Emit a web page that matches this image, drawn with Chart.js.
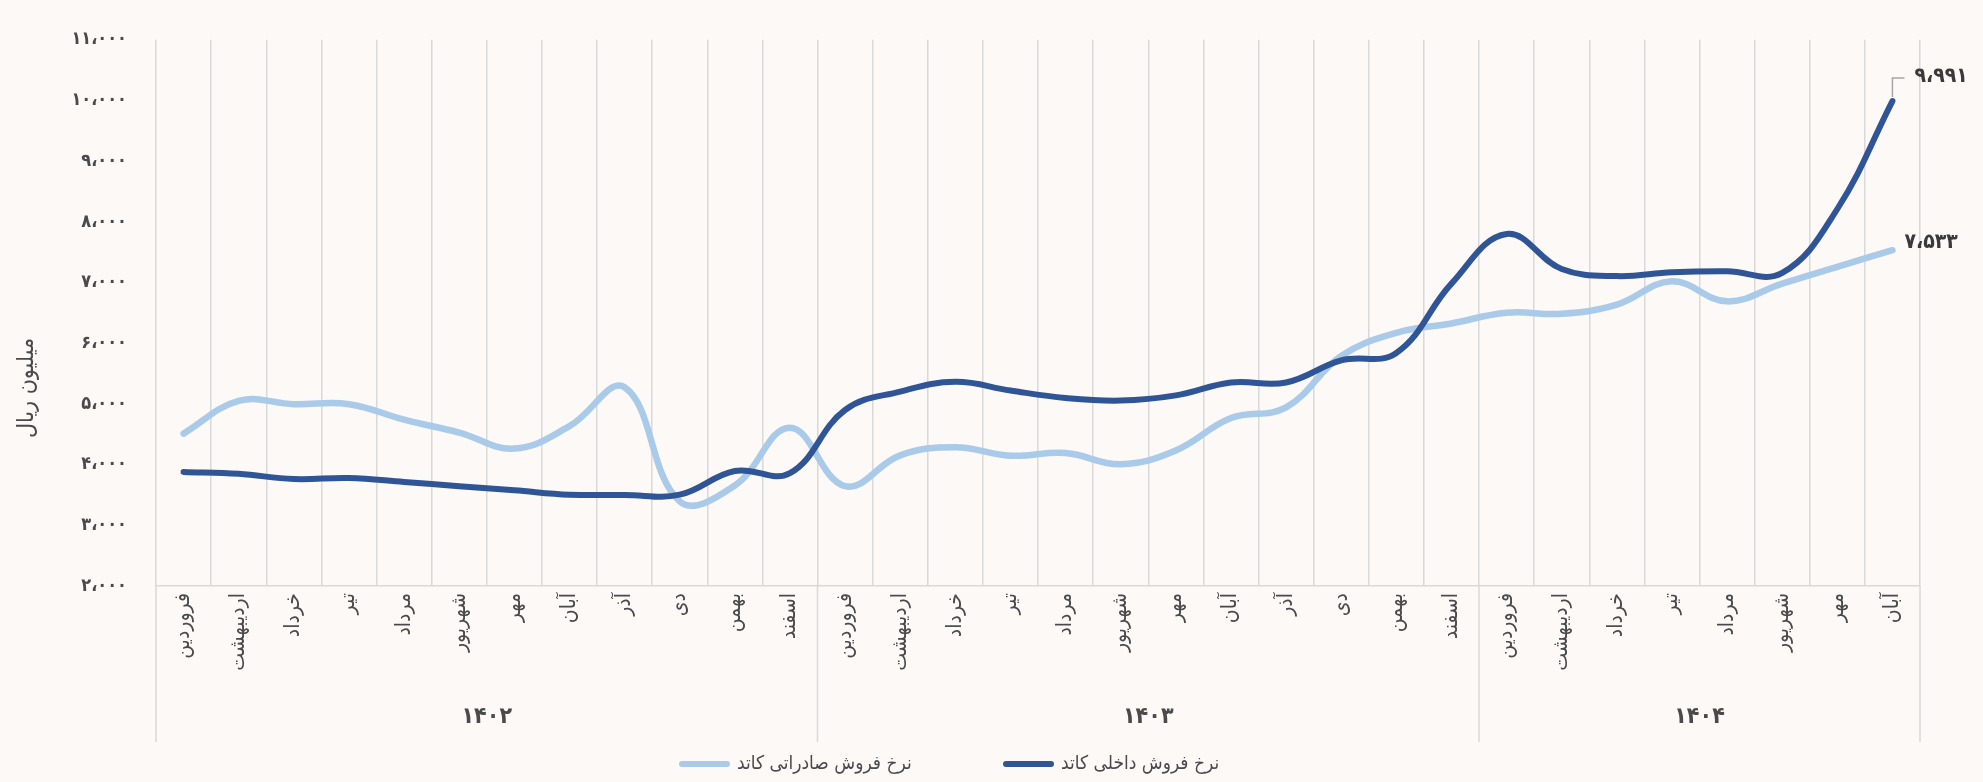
<!DOCTYPE html>
<html><head><meta charset="utf-8">
<script src="https://cdn.jsdelivr.net/npm/chart.js@4.4.1/dist/chart.umd.min.js"></script>
<style>
html,body{margin:0;padding:0;background:#FDF9F7;}
#wrap{width:1983px;height:782px;position:relative;overflow:hidden;}
</style></head><body>
<div id="wrap"><canvas id="c" width="1983" height="782"></canvas></div>
<script>
const monthNames = ['فروردین','اردیبهشت','خرداد','تیر','مرداد','شهریور','مهر','آبان','آذر','دی','بهمن','اسفند'];
const categories = [].concat(monthNames, monthNames, monthNames.slice(0, 8));
const years = ['۱۴۰۲','۱۴۰۳','۱۴۰۴'];
const yearSpans = [12, 12, 8];
const seriesNames = ['نرخ فروش داخلی کاتد', 'نرخ فروش صادراتی کاتد'];
const domestic = [3880, 3848, 3763, 3779, 3714, 3645, 3578, 3505, 3501, 3505, 3896, 3859,
                  4900, 5204, 5365, 5221, 5098, 5055, 5141, 5354, 5354, 5717, 5840, 6983,
                  7800, 7224, 7106, 7170, 7187, 7159, 8212, 9991];
const exportRate = [4511, 5049, 4996, 4996, 4740, 4527, 4265, 4633, 5274, 3394, 3655, 4607,
                    3645, 4152, 4286, 4147, 4190, 4008, 4232, 4767, 4943, 5790, 6171, 6326,
                    6502, 6486, 6636, 7021, 6690, 6983, 7260, 7533];
const yTickValues = [2000, 3000, 4000, 5000, 6000, 7000, 8000, 9000, 10000, 11000];
const yTitle = 'میلیون ریال';

const FONT = "'DejaVu Sans Condensed', 'DejaVu Sans', sans-serif";
const TXT = '#4A4A4A';
const GRID = '#D9D9D9';
const DARK = '#2F5597';
const LIGHT = '#A9CAE8';
const BG = '#FDF9F7';

function toFa(n) {
  return String(n).replace(/\B(?=(\d{3})+(?!\d))/g, '،').replace(/\d/g, d => '۰۱۲۳۴۵۶۷۸۹'[d]);
}

const extras = {
  id: 'extras',
  beforeDraw(chart) {
    const ctx = chart.ctx;
    ctx.save();
    ctx.fillStyle = BG;
    ctx.fillRect(0, 0, chart.width, chart.height);
    ctx.restore();
  },
  afterDraw(chart) {
    const ctx = chart.ctx;
    const xs = chart.scales.x;
    const area = chart.chartArea;
    const half = (xs.getPixelForValue(1) - xs.getPixelForValue(0)) / 2;
    ctx.save();
    ctx.strokeStyle = GRID;
    ctx.lineWidth = 1.5;
    let start = 0;
    const bounds = [0];
    yearSpans.forEach(s => { start += s; bounds.push(start); });
    bounds.forEach(b => {
      const px = b < categories.length ? xs.getPixelForValue(b) - half : xs.getPixelForValue(b - 1) + half;
      ctx.beginPath();
      ctx.moveTo(px, area.bottom);
      ctx.lineTo(px, 742);
      ctx.stroke();
    });
    ctx.fillStyle = TXT;
    ctx.font = 'bold 23px ' + FONT;
    ctx.textAlign = 'center';
    ctx.textBaseline = 'middle';
    years.forEach((y, i) => {
      const l = xs.getPixelForValue(bounds[i]) - half;
      const r = xs.getPixelForValue(bounds[i + 1] - 1) + half;
      ctx.fillText(y, (l + r) / 2, 717);
    });
    ctx.save();
    ctx.translate(27, 388);
    ctx.rotate(-Math.PI / 2);
    ctx.font = '23px ' + FONT;
    ctx.fillText(yTitle, 0, 0);
    ctx.restore();
    const mD = chart.getDatasetMeta(0).data;
    const mE = chart.getDatasetMeta(1).data;
    const pD = mD[mD.length - 1], pE = mE[mE.length - 1];
    ctx.strokeStyle = '#A6A6A6';
    ctx.lineWidth = 1.5;
    ctx.beginPath();
    ctx.moveTo(pD.x, pD.y - 4);
    ctx.lineTo(pD.x, pD.y - 23);
    ctx.lineTo(pD.x + 12, pD.y - 23);
    ctx.stroke();
    ctx.fillStyle = '#3A3A3A';
    ctx.font = 'bold 21px ' + FONT;
    ctx.textAlign = 'left';
    ctx.fillText(toFa(domestic[domestic.length - 1]), pD.x + 22, pD.y - 24);
    ctx.fillText(toFa(exportRate[exportRate.length - 1]), pE.x + 12, pE.y - 8);
    const items = [
      { name: seriesNames[1], color: LIGHT, x: 679 },
      { name: seriesNames[0], color: DARK, x: 1003 }
    ];
    ctx.font = '19px ' + FONT;
    ctx.fillStyle = TXT;
    ctx.lineCap = 'round';
    items.forEach(it => {
      ctx.strokeStyle = it.color;
      ctx.lineWidth = 6;
      ctx.beginPath();
      ctx.moveTo(it.x + 3, 764);
      ctx.lineTo(it.x + 48, 764);
      ctx.stroke();
      ctx.fillText(it.name, it.x + 58, 764);
    });
    ctx.restore();
  }
};

new Chart(document.getElementById('c'), {
  type: 'line',
  data: {
    labels: categories,
    datasets: [
      { label: seriesNames[0], data: domestic, borderColor: DARK, backgroundColor: DARK,
        borderWidth: 6, pointRadius: 0, tension: 0.4, borderCapStyle: 'round', borderJoinStyle: 'round' },
      { label: seriesNames[1], data: exportRate, borderColor: LIGHT, backgroundColor: LIGHT,
        borderWidth: 6.5, pointRadius: 0, tension: 0.4, borderCapStyle: 'round', borderJoinStyle: 'round' }
    ]
  },
  options: {
    responsive: false,
    animation: false,
    devicePixelRatio: 1,
    layout: { padding: { top: 24, right: 63, left: 0, bottom: 0 } },
    plugins: { legend: { display: false }, tooltip: { enabled: false }, title: { display: false } },
    scales: {
      x: {
        type: 'category',
        offset: true,
        grid: { offset: true, color: GRID, lineWidth: 1.5, drawTicks: false },
        border: { display: true, color: GRID, width: 1.5 },
        ticks: { autoSkip: false, maxRotation: 90, minRotation: 90, padding: 7,
                 color: TXT, font: { family: FONT, size: 21 } },
        afterFit: s => { s.height = 196; }
      },
      y: {
        min: 2000, max: 11000,
        afterBuildTicks: s => { s.ticks = yTickValues.map(v => ({ value: v })); },
        grid: { display: false, drawTicks: false },
        border: { display: false },
        ticks: { padding: 29, color: TXT, font: { family: FONT, size: 18, weight: 'bold' },
                 callback: v => toFa(v) },
        afterFit: s => { s.width = 156; }
      }
    }
  },
  plugins: [extras]
});
</script>
</body></html>
